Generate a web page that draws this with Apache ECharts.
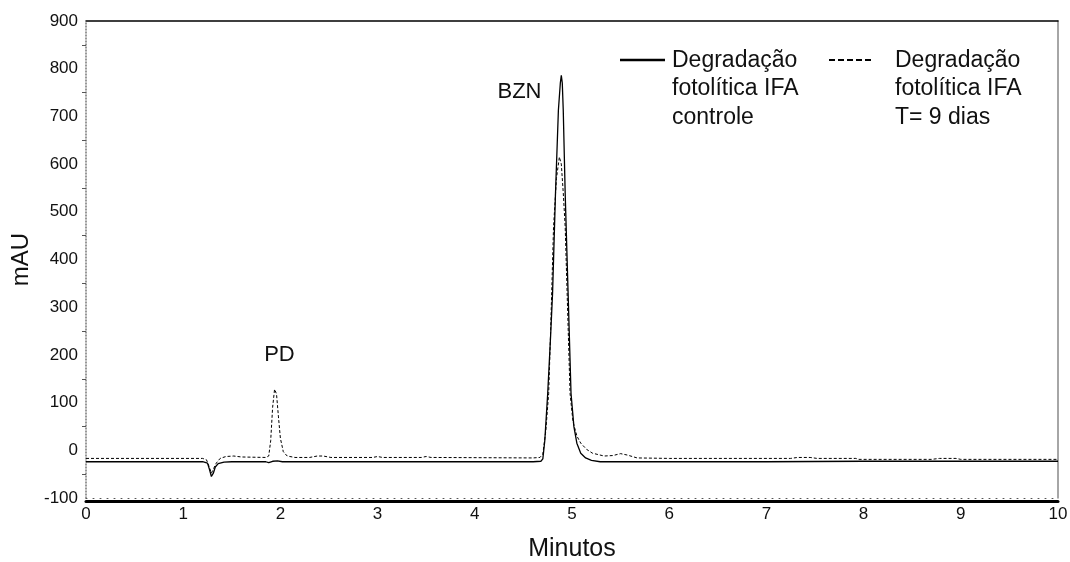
<!DOCTYPE html>
<html>
<head>
<meta charset="utf-8">
<script src="https://cdn.jsdelivr.net/npm/echarts@6/dist/echarts.min.js"></script>
<style>
  html, body { margin: 0; padding: 0; background: #fff; }
  #chart { width: 1070px; height: 562px; }
</style>
</head>
<body>
<div id="chart"></div>
<script>
// Chromatogram: photolytic degradation of the API, control vs. 9 days of exposure
// Each point is [time (min), absorbance (mAU)]
const controle = [
  [0, -24], [0.6, -24], [1.2, -24], [1.25, -27], [1.27, -40], [1.29, -55], [1.31, -48],
  [1.33, -35], [1.36, -28], [1.42, -25], [1.5, -24], [1.85, -24], [1.88, -26], [1.92, -23],
  [1.97, -22], [2.02, -24], [3.0, -24], [4.0, -24], [4.6, -24], [4.68, -23], [4.70, -18],
  [4.72, 20], [4.75, 119], [4.78, 240], [4.80, 329], [4.83, 538], [4.86, 713], [4.88, 770],
  [4.89, 786], [4.90, 770], [4.91, 713], [4.93, 538], [4.96, 329], [4.99, 119], [5.02, 49],
  [5.05, 15], [5.09, -6], [5.14, -16], [5.20, -21], [5.29, -24], [6.0, -24], [7.0, -24],
  [8.0, -23], [9.0, -23], [10, -23]
];
const dias9 = [
  [0, -17], [0.6, -17], [1.2, -17], [1.24, -20], [1.27, -36], [1.29, -48], [1.31, -44],
  [1.34, -27], [1.38, -17], [1.44, -13], [1.52, -12], [1.6, -14], [1.85, -15], [1.88, -12],
  [1.90, 20], [1.92, 90], [1.94, 128], [1.96, 118], [1.98, 70], [2.00, 25], [2.03, -3],
  [2.07, -12], [2.15, -15], [2.3, -15], [2.38, -12], [2.44, -12], [2.52, -15], [2.95, -15],
  [3.0, -13], [3.05, -15], [3.45, -15], [3.5, -13], [3.55, -15], [4.6, -16], [4.67, -15],
  [4.70, -8], [4.73, 40], [4.76, 119], [4.78, 250], [4.81, 468], [4.84, 570], [4.87, 615],
  [4.89, 600], [4.91, 540], [4.93, 468], [4.96, 259], [4.98, 119], [5.01, 60], [5.05, 30],
  [5.09, 15], [5.15, 2], [5.21, -6], [5.33, -12], [5.42, -11], [5.50, -7], [5.57, -10],
  [5.67, -16], [6.0, -17], [7.25, -17], [7.32, -15], [7.45, -15], [7.52, -17], [7.92, -17],
  [7.95, -19], [8.7, -19], [8.78, -17], [8.95, -17], [9.0, -19], [10, -19]
];
// Peak annotations: [name, time, mAU]
const peakLabels = [
  ['BZN', 4.46, 751],
  ['PD', 1.99, 200]
];
const legendNames = [
  'Degradação\nfotolítica IFA\ncontrole',
  'Degradação\nfotolítica IFA\nT= 9 dias'
];
const xTicks = { min: 0, max: 10, step: 1 };
const yTicks = { min: -100, max: 900, step: 100 };

const FONT = '"Liberation Sans", Arial, sans-serif';
const chart = echarts.init(document.getElementById('chart'), null, { renderer: 'canvas' });

const option = {
  backgroundColor: '#fff',
  animation: false,
  grid: { left: 86, right: 12, top: 21, bottom: 64, containLabel: false, outerBoundsMode: 'none' },
  xAxis: [
    {
      type: 'value', position: 'bottom', min: xTicks.min, max: xTicks.max, interval: xTicks.step,
      axisLine: { show: true, onZero: false, lineStyle: { color: '#555', width: 1, type: [1, 6] } },
      axisTick: { show: false }, axisLabel: { show: false }, splitLine: { show: false }
    },
    {
      type: 'value', position: 'bottom', offset: 3, min: xTicks.min, max: xTicks.max, interval: xTicks.step,
      axisLine: { show: true, onZero: false, lineStyle: { color: '#000', width: 3 } },
      axisTick: { show: false },
      axisLabel: { show: true, margin: 5, fontSize: 17, color: '#111', fontFamily: FONT },
      splitLine: { show: false },
      name: 'Minutos', nameLocation: 'middle', nameGap: 36,
      nameTextStyle: { fontSize: 25, color: '#111', fontFamily: FONT }
    },
    {
      type: 'value', position: 'top', min: xTicks.min, max: xTicks.max, interval: xTicks.step,
      axisLine: { show: true, onZero: false, lineStyle: { color: '#000', width: 1.5 } },
      axisTick: { show: false }, axisLabel: { show: false }, splitLine: { show: false }
    }
  ],
  yAxis: [
    {
      type: 'value', position: 'left', min: yTicks.min, max: yTicks.max, interval: yTicks.step,
      axisLine: { show: true, onZero: false, lineStyle: { color: '#777', width: 1.5, type: [1, 2] } },
      axisTick: { show: false },
      minorTick: { show: true, splitNumber: 2, length: 4, lineStyle: { color: '#555', width: 1 } },
      axisLabel: { show: true, margin: 8, fontSize: 17, color: '#111', fontFamily: FONT },
      splitLine: { show: false },
      name: 'mAU', nameLocation: 'middle', nameGap: 52, nameRotate: 90,
      nameTextStyle: { fontSize: 24, color: '#111', fontFamily: FONT }
    },
    {
      type: 'value', position: 'right', min: yTicks.min, max: yTicks.max, interval: yTicks.step,
      axisLine: { show: true, onZero: false, lineStyle: { color: '#888', width: 1.5 } },
      axisTick: { show: false }, axisLabel: { show: false }, splitLine: { show: false }
    }
  ],
  series: [
    {
      name: legendNames[0], type: 'line', data: controle, xAxisIndex: 0, yAxisIndex: 0,
      showSymbol: false, symbol: 'none',
      lineStyle: { color: '#000', width: 1.3 },
      markPoint: {
        symbol: 'circle', symbolSize: 0,
        label: { show: true, position: 'inside', fontSize: 22, color: '#111', fontFamily: FONT,
                 formatter: p => p.name },
        data: peakLabels.map(([n, t, v]) => ({ name: n, coord: [t, v] }))
      }
    },
    {
      name: legendNames[1], type: 'line', data: dias9, xAxisIndex: 0, yAxisIndex: 0,
      showSymbol: false, symbol: 'none', z: 3,
      lineStyle: { color: '#000', width: 1, type: [3, 2] }
    }
  ],
  graphic: [
    { type: 'line', shape: { x1: 620, y1: 60, x2: 665, y2: 60 }, style: { stroke: '#000', lineWidth: 2.5 } },
    { type: 'text', left: 672, top: 46,
      style: { text: legendNames[0], font: '23px ' + FONT, fill: '#111', lineHeight: 28.5 } },
    { type: 'line', shape: { x1: 829, y1: 60, x2: 873, y2: 60 },
      style: { stroke: '#000', lineWidth: 2, lineDash: [6, 3] } },
    { type: 'text', left: 895, top: 46,
      style: { text: legendNames[1], font: '23px ' + FONT, fill: '#111', lineHeight: 28.5 } }
  ]
};
chart.setOption(option);
</script>
</body>
</html>
